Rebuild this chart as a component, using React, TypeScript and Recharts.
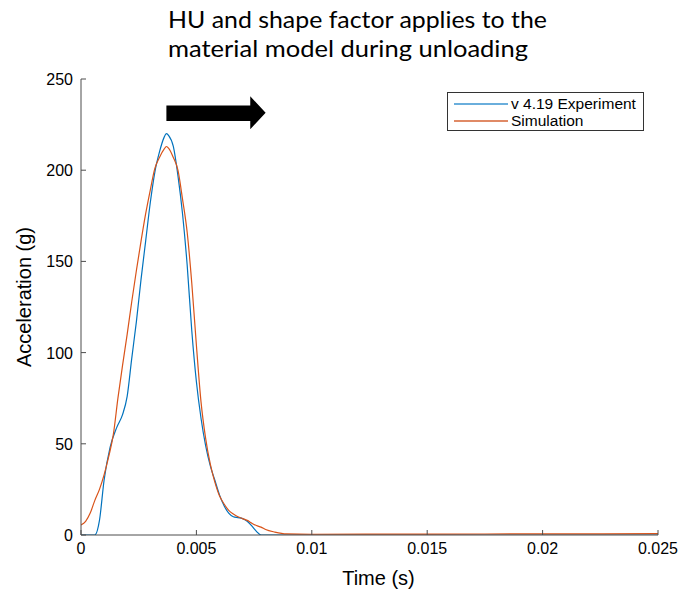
import React from 'react';
import { LineChart, Line, XAxis, YAxis, Legend, ReferenceArea } from 'recharts';

const expTime = [0, 0.0006, 0.0008, 0.001, 0.00126, 0.00155, 0.0018, 0.002, 0.0022, 0.0024, 0.0026, 0.0028, 0.003, 0.0032, 0.0034, 0.0036, 0.0037, 0.0038, 0.004, 0.0042, 0.0044, 0.0046, 0.0048, 0.005, 0.0052, 0.0054, 0.0056, 0.0058, 0.006, 0.0062, 0.0064, 0.0066, 0.0068, 0.007, 0.0072, 0.0074, 0.0076, 0.0078, 0.01, 0.015, 0.02, 0.025];
const expAccel = [0, 0, 8, 30, 48, 59, 66, 76, 97, 117, 140, 161, 182, 199, 210, 218, 220, 219, 213, 197, 176, 148, 112, 84, 64, 49, 38, 30, 22, 16, 12, 10, 9.5, 9, 7.5, 5, 2, 0, 0, 0, 0, 0];

const simTime = [0, 0.0002, 0.0004, 0.0006, 0.0008, 0.001, 0.0012, 0.0014, 0.0016, 0.0018, 0.002, 0.0022, 0.0024, 0.0026, 0.0028, 0.003, 0.0032, 0.0034, 0.0036, 0.0037, 0.0038, 0.004, 0.0042, 0.0044, 0.0046, 0.0048, 0.005, 0.0052, 0.0054, 0.0056, 0.0058, 0.006, 0.0062, 0.0064, 0.0066, 0.0068, 0.007, 0.0072, 0.0074, 0.0076, 0.0078, 0.008, 0.0084, 0.0089, 0.01, 0.015, 0.02, 0.025];
const simAccel = [5.5, 7.5, 12, 19, 25, 33, 43, 55, 75, 93, 110, 128, 145, 161, 176, 189, 201, 207, 211.5, 213, 212, 207, 200, 184, 166, 138, 104, 73, 53, 39, 29, 21.5, 17, 13.5, 11.5, 10, 9, 8, 6.5, 5.2, 4.3, 3, 1.6, 0.6, 0.4, 0.5, 0.6, 0.7];

const xTicks = [0, 0.005, 0.01, 0.015, 0.02, 0.025];
const yTicks = [0, 50, 100, 150, 200, 250];
const seriesNames = ['v 4.19 Experiment', 'Simulation'];
const titleLines = ['HU and shape factor applies to the', 'material model during unloading'];
const arrowBox = { t1: 0.0037, t2: 0.008, a1: 222.5, a2: 240.5 };

const expData = expTime.map((t, i) => ({ t, v: expAccel[i] }));
const simData = simTime.map((t, i) => ({ t, v: simAccel[i] }));

const BLUE = '#0072BD';
const ORANGE = '#D95319';
const LEG_COLORS = ['#6aaedc', '#e08a66'];
const AXIS = '#4d4d4d';
const FONT = '"Liberation Sans", Arial, Helvetica, sans-serif';

const BottomTick = (props: any) => {
  const { x, y, payload } = props;
  const ay = y - 2;
  return (
    <g>
      <line x1={x} x2={x} y1={ay} y2={ay - 5} stroke={AXIS} strokeWidth={1} />
      <text x={x} y={ay + 19} textAnchor="middle" fontSize={16} fontFamily={FONT} fill="#000">{String(payload.value)}</text>
    </g>
  );
};
const LeftTick = (props: any) => {
  const { x, y, payload } = props;
  const ax = x + 2;
  return (
    <g>
      <line x1={ax} x2={ax + 5} y1={y} y2={y} stroke={AXIS} strokeWidth={1} />
      <text x={ax - 8} y={y + 6} textAnchor="end" fontSize={16} fontFamily={FONT} fill="#000">{String(payload.value)}</text>
    </g>
  );
};
const TopTick = (props: any) => {
  const { x, y } = props;
  return <line x1={x} x2={x} y1={y} y2={y + 5} stroke={AXIS} strokeWidth={1} />;
};
const RightTick = (props: any) => {
  const { x, y } = props;
  return <line x1={x} x2={x - 5} y1={y} y2={y} stroke={AXIS} strokeWidth={1} />;
};

const ArrowShape = (props: any) => {
  const { x, y, width, height } = props;
  const headW = width * 0.155;
  const shaftTop = y + height * 0.28;
  const shaftBot = y + height * 0.75;
  const mid = y + height * 0.5;
  const hx = x + width - headW;
  const pts = `${x},${shaftTop} ${hx},${shaftTop} ${hx},${y} ${x + width},${mid} ${hx},${y + height} ${hx},${shaftBot} ${x},${shaftBot}`;
  return <polygon points={pts} fill="#000" />;
};

const LegendBox = () => (
  <div style={{ width: 197, height: 39, border: '1px solid #333', background: '#fff', boxSizing: 'border-box', fontFamily: FONT, fontSize: 15.5, color: '#000', padding: '2px 0 0 6px', lineHeight: '17px' }}>
    {seriesNames.map((n, i) => (
      <div key={n} style={{ display: 'flex', alignItems: 'center', whiteSpace: 'nowrap', height: 17 }}>
        <span style={{ display: 'block', width: 54, height: 2, background: LEG_COLORS[i], marginRight: 3 }} />
        <span>{n}</span>
      </div>
    ))}
  </div>
);

export default function App() {
  return (
    <div style={{ position: 'absolute', left: 0, top: 0, width: 685, height: 592, background: '#fff' }}>
      <svg width={685} height={70} style={{ position: 'absolute', left: 0, top: 0 }}>
        {titleLines.map((l, i) => (
          <text key={l} x={168} y={28 + i * 28.5} fontSize={24} fontFamily="Lato, 'Open Sans', sans-serif" fill="#000" textLength={i === 0 ? 379 : 360} lengthAdjust="spacingAndGlyphs">{l}</text>
        ))}
      </svg>
      <div style={{ position: 'absolute', left: 0, top: 0 }}>
        <LineChart width={685} height={592} margin={{ top: 79, right: 27, bottom: 27, left: 31 }}>
          <XAxis xAxisId="b" dataKey="t" type="number" domain={[0, 0.025]} ticks={xTicks} allowDataOverflow height={30} stroke={AXIS} tickSize={0} tickMargin={2} tickLine={false} tick={<BottomTick />}
            label={{ value: 'Time (s)', position: 'bottom', offset: 0, dy: 6, dx: 9, fontSize: 20, fontFamily: FONT, fill: '#000' }} />
          <XAxis xAxisId="top" orientation="top" type="number" domain={[0, 0.025]} ticks={xTicks} allowDataOverflow height={0} stroke="#8a8a8a" tickSize={0} tickMargin={0} tickLine={false} tick={<TopTick />} />
          <YAxis yAxisId="l" type="number" domain={[0, 250]} ticks={yTicks} allowDataOverflow width={50} stroke={AXIS} tickSize={0} tickMargin={2} tickLine={false} tick={<LeftTick />}
            label={{ value: 'Acceleration (g)', angle: -90, position: 'insideLeft', offset: -7, dy: -10, fontSize: 20, fontFamily: FONT, fill: '#000', textAnchor: 'middle' }} />
          <YAxis yAxisId="r" orientation="right" type="number" domain={[0, 250]} ticks={yTicks} allowDataOverflow width={0} stroke="#8a8a8a" tickSize={0} tickMargin={0} tickLine={false} tick={<RightTick />} />
          <ReferenceArea xAxisId="b" yAxisId="l" x1={arrowBox.t1} x2={arrowBox.t2} y1={arrowBox.a1} y2={arrowBox.a2} shape={<ArrowShape />} ifOverflow="visible" />
          <Line xAxisId="b" yAxisId="l" data={expData} dataKey="v" name={seriesNames[0]} type="monotone" stroke={BLUE} strokeWidth={1.2} dot={false} isAnimationActive={false} />
          <Line xAxisId="b" yAxisId="l" data={simData} dataKey="v" name={seriesNames[1]} type="monotone" stroke={ORANGE} strokeWidth={1.2} dot={false} isAnimationActive={false} />
          <Legend layout="horizontal" verticalAlign="middle" align="center" content={<LegendBox />}
            wrapperStyle={{ position: 'absolute', left: 447, top: 92, width: 198, height: 40 }} />
        </LineChart>
      </div>
    </div>
  );
}
